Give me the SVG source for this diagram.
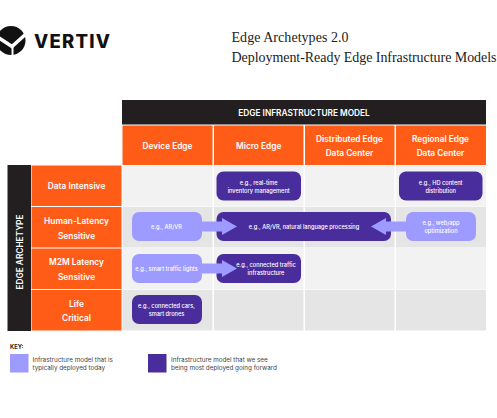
<svg xmlns="http://www.w3.org/2000/svg" width="497" height="418" viewBox="0 0 497 418">
<style>
text{font-family:"Inter","Liberation Sans",sans-serif;text-anchor:middle;fill:#fff}
.h{font-weight:600;font-size:8.3px}
.r{font-weight:600;font-size:8.4px}
.n{font-weight:500;font-size:5.65px}
.o{fill:#ff5c17}.k{fill:#231f20}
.c1{fill:#f2f2f2}.c2{fill:#e5e5e5}
.d{fill:#4a2d9c}.l{fill:#9d9bff}
.key{fill:#444;text-anchor:start;font-size:6.3px;font-weight:400}
.t{font-family:"Liberation Serif",serif;fill:#222;text-anchor:start;font-size:14px}
</style>
<g id="logo">
<circle cx="11" cy="40.500" r="14.500" fill="#111"/>
<path d="M-4 36L12 46.500L27 33" fill="none" stroke="#fff" stroke-width="3.600"/>
<path d="M12.500 46V56" fill="none" stroke="#fff" stroke-width="2"/>
<text x="34" y="48" style="font-weight:800;font-size:18.500px;text-anchor:start;fill:#111" textLength="76">VERTIV</text>
</g>
<g id="title">
<text class="t" x="231.500" y="41.700" textLength="117">Edge Archetypes 2.0</text>
<text class="t" x="231.500" y="61.700" textLength="265">Deployment-Ready Edge Infrastructure Models</text>
</g>
<g id="grid">
<rect class="c1" x="122.500" y="165.500" width="90" height="41"/>
<rect class="c1" x="214" y="165.500" width="89.500" height="41"/>
<rect class="c1" x="305" y="165.500" width="89.500" height="41"/>
<rect class="c1" x="396" y="165.500" width="90" height="41"/>
<rect class="c2" x="122.500" y="207" width="90" height="40.500"/>
<rect class="c2" x="214" y="207" width="89.500" height="40.500"/>
<rect class="c2" x="305" y="207" width="89.500" height="40.500"/>
<rect class="c2" x="396" y="207" width="90" height="40.500"/>
<rect class="c1" x="122.500" y="248" width="90" height="41.500"/>
<rect class="c1" x="214" y="248" width="89.500" height="41.500"/>
<rect class="c1" x="305" y="248" width="89.500" height="41.500"/>
<rect class="c1" x="396" y="248" width="90" height="41.500"/>
<rect class="c2" x="122.500" y="290" width="90" height="40.500"/>
<rect class="c2" x="214" y="290" width="89.500" height="40.500"/>
<rect class="c2" x="305" y="290" width="89.500" height="40.500"/>
<rect class="c2" x="396" y="290" width="90" height="40.500"/>
</g>
<g id="header-model"><rect class="k" x="122" y="100" width="364" height="24.500"/><text class="h" x="304" y="115.500">EDGE INFRASTRUCTURE MODEL</text></g>
<g id="col-device"><rect class="o" x="122.500" y="125.500" width="90" height="39.500"/><text class="h" x="167.500" y="148.500">Device Edge</text></g>
<g id="col-micro"><rect class="o" x="214" y="125.500" width="89.500" height="39.500"/><text class="h" x="258.700" y="148.500">Micro Edge</text></g>
<g id="col-distributed"><rect class="o" x="305" y="125.500" width="89.500" height="39.500"/><text class="h" x="349.500" y="141.500">Distributed Edge</text><text class="h" x="349.500" y="155.500">Data Center</text></g>
<g id="col-regional"><rect class="o" x="396" y="125.500" width="90" height="39.500"/><text class="h" x="440.500" y="141.500">Regional Edge</text><text class="h" x="440.500" y="155.500">Data Center</text></g>
<g id="side-archetype"><rect class="k" x="7.500" y="165" width="23.500" height="166"/><text class="h" transform="translate(22.500 252) rotate(-90)">EDGE ARCHETYPE</text></g>
<g id="row-data"><rect class="o" x="31.500" y="165.500" width="90" height="40.500"/><text class="r" x="76.500" y="189">Data Intensive</text></g>
<g id="row-human"><rect class="o" x="31.500" y="207" width="90" height="40.500"/><text class="r" x="76.500" y="224">Human-Latency</text><text class="r" x="76.500" y="238.500">Sensitive</text></g>
<g id="row-m2m"><rect class="o" x="31.500" y="248.500" width="90" height="40.500"/><text class="r" x="76.500" y="265">M2M Latency</text><text class="r" x="76.500" y="279.500">Sensitive</text></g>
<g id="row-life"><rect class="o" x="31.500" y="290" width="90" height="40.500"/><text class="r" x="76.500" y="306.500">Life</text><text class="r" x="76.500" y="320.500">Critical</text></g>
<g id="n-micro-data"><rect class="d" x="216.500" y="171.500" width="84.500" height="29" rx="7"/><text class="n" x="258.700" y="184.500">e.g., real-time</text><text class="n" x="258.700" y="192.500">inventory management</text></g>
<g id="n-regional-data"><rect class="d" x="399" y="171.500" width="83.500" height="29" rx="7"/><text class="n" x="440.700" y="184.500">e.g., HD content</text><text class="n" x="440.700" y="192.500">distribution</text></g>
<g id="n-device-human"><rect class="l" x="132" y="212" width="70" height="29" rx="7"/><text class="n" x="166.500" y="228.500">e.g., AR/VR</text></g>
<g id="n-micro-human"><rect class="d" x="216.500" y="212" width="174.500" height="29" rx="7"/><text class="n" x="304" y="228.500">e.g., AR/VR, natural language processing</text></g>
<g id="n-regional-human"><rect class="l" x="406" y="212" width="70" height="29" rx="7"/><text class="n" x="441" y="224.500">e.g., web/app</text><text class="n" x="441" y="232.500">optimization</text></g>
<g id="n-device-m2m"><rect class="l" x="132" y="254" width="70" height="29" rx="7"/><text class="n" x="166.500" y="270.500">e.g., smart traffic lights</text></g>
<g id="n-micro-m2m"><rect class="d" x="216.500" y="254" width="84.500" height="29" rx="7"/><text class="n" x="266" y="266.500">e.g., connected traffic</text><text class="n" x="266" y="274.500">infrastructure</text></g>
<g id="n-device-life"><rect class="d" x="132" y="295" width="70" height="29" rx="7"/><text class="n" x="166.500" y="307.500">e.g., connected cars,</text><text class="n" x="166.500" y="315.500">smart drones</text></g>
<g id="connectors" class="l">
<path d="M201 221.500H222V218L237 226.500L222 235V231.500H201Z"/>
<path d="M201 263.500H222V260L237 268.500L222 277V273.500H201Z"/>
<path d="M407 221.500H386V218L371 226.500L386 235V231.500H407Z"/>
</g>
<g id="key">
<text x="10" y="349" style="fill:#222;text-anchor:start;font-size:5.800px;font-weight:700">KEY:</text>
<rect class="l" x="10" y="354" width="18.500" height="18.500"/>
<text class="key" x="32.500" y="361.500">Infrastructure model that is</text><text class="key" x="32.500" y="369.500">typically deployed today</text>
<rect class="d" x="148" y="354" width="18.500" height="18.500"/>
<text class="key" x="171" y="361.500">Infrastructure model that we see</text><text class="key" x="171" y="369.500">being most deployed going forward</text>
</g>
</svg>
